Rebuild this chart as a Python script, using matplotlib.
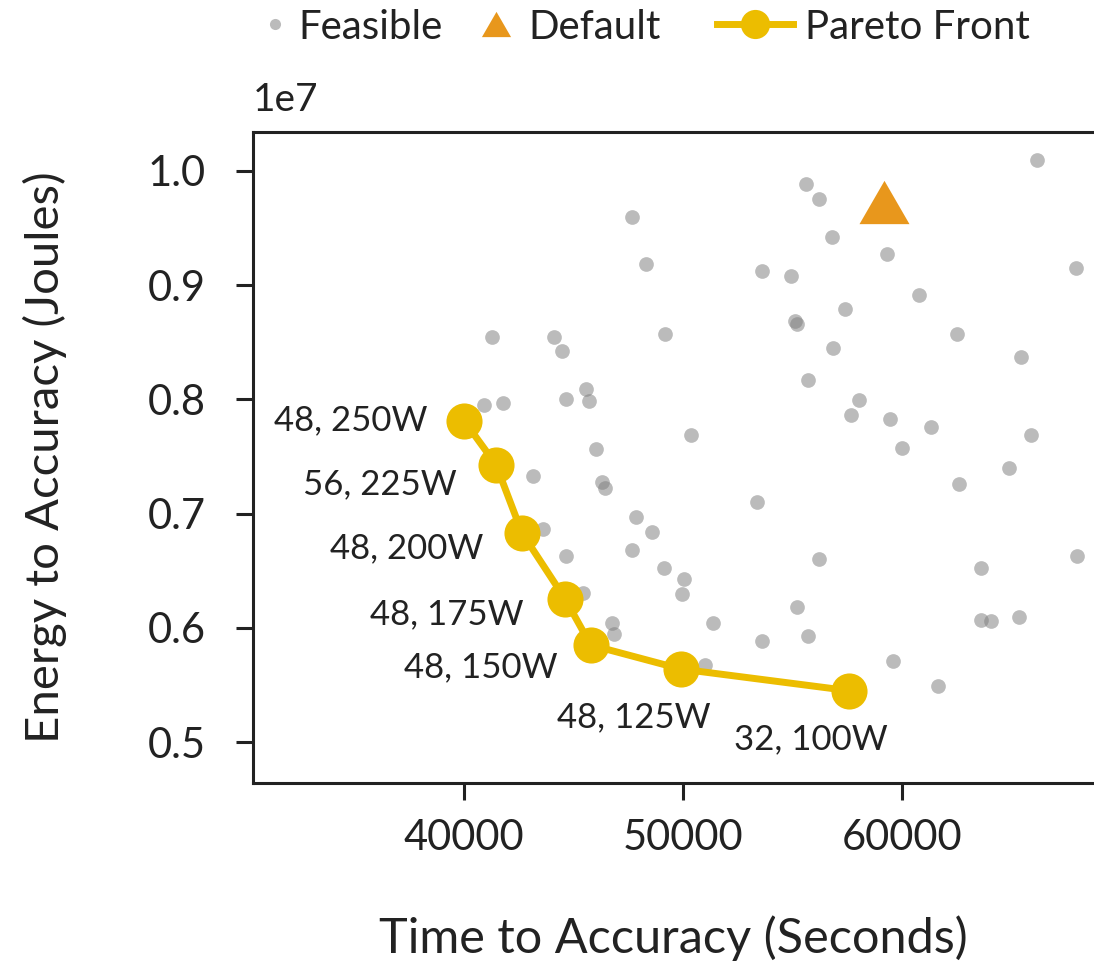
import matplotlib
matplotlib.use("Agg")
import matplotlib.pyplot as plt
from matplotlib.lines import Line2D
from matplotlib.path import Path
import numpy as np

# ---------------- data ----------------
feasible_time = [47678, 48317, 41291, 44119, 44471, 49147, 45579, 40926, 41779, 44640,
                 45716, 46035, 66140, 55588, 56182, 56802, 59311, 53581, 54918, 67906,
                 60771, 57381, 55087, 55191, 62477, 56834, 65424, 55707, 58020, 57655,
                 59434, 61318, 50342, 65853, 59968, 43148, 46309, 46446, 43590, 47860,
                 48563, 44667, 47664, 49101, 45442, 46765, 46843, 64863, 62596, 53353,
                 56209, 67979, 50050, 49931, 63572, 55191, 51359, 53608, 55680, 63572,
                 64055, 65333, 59571, 50981, 61637]
feasible_energy = [0.9593, 0.9182, 0.8546, 0.8543, 0.8426, 0.8575, 0.8088, 0.7954, 0.7966, 0.8006,
                   0.7983, 0.7563, 1.0097, 0.9882, 0.9753, 0.9418, 0.9270, 0.9121, 0.9077, 0.9147,
                   0.8911, 0.8794, 0.8689, 0.8657, 0.8570, 0.8450, 0.8368, 0.8167, 0.7992, 0.7861,
                   0.7831, 0.7756, 0.7689, 0.7691, 0.7575, 0.7332, 0.7280, 0.7228, 0.6866, 0.6971,
                   0.6840, 0.6633, 0.6685, 0.6525, 0.6306, 0.6046, 0.5945, 0.7400, 0.7260, 0.7102,
                   0.6601, 0.6627, 0.6426, 0.6295, 0.6528, 0.6184, 0.6041, 0.5886, 0.5927, 0.6067,
                   0.6059, 0.6094, 0.5709, 0.5679, 0.5493]
feasible_energy = [v * 1e7 for v in feasible_energy]

default_time = [59160]
default_energy = [0.9723e7]

pareto_time = [40000, 41460, 42646, 44608, 45780, 49886, 57577]
pareto_energy = [0.7814e7, 0.7429e7, 0.6831e7, 0.6256e7, 0.5851e7, 0.5641e7, 0.5451e7]
pareto_labels = ["48, 250W", "56, 225W", "48, 200W", "48, 175W", "48, 150W", "48, 125W", "32, 100W"]

xticks = [40000, 50000, 60000]
yticks = [0.5e7, 0.6e7, 0.7e7, 0.8e7, 0.9e7, 1.0e7]

# ---------------- style ----------------
FONT = ["Lato", "DejaVu Sans"]
plt.rcParams["font.family"] = FONT
TXT = "#222222"
GRAY = "#808080"
ORANGE = "#E8971C"
YELLOW = "#ECBD00"

fig = plt.figure(figsize=(10.94, 9.65), dpi=100)
ax = fig.add_axes([0.231, 0.1883, 0.769, 0.6752])

ax.scatter(feasible_time, feasible_energy, s=112, color=GRAY, alpha=0.53,
           linewidths=0, zorder=2)
tri = Path([(0, 0.866), (-1, -0.866), (1, -0.866), (0, 0.866)])
ax.plot(default_time, default_energy, linestyle="none", marker=tri, markersize=36,
        color=ORANGE, markeredgewidth=0, zorder=3)
ax.plot(pareto_time, pareto_energy, color=YELLOW, linewidth=5, marker="o",
        markersize=26, markeredgewidth=0, zorder=4)

offsets = [(-26, 0, "right"), (-28, -14, "right"), (-28, -11, "right"),
           (-30, -11, "right"), (-24, -16, "right"), (-34, -35, "center"),
           (-28, -35, "center")]
for t, e, lab, (dx, dy, ha) in zip(pareto_time, pareto_energy, pareto_labels, offsets):
    ax.annotate(lab, (t, e), xytext=(dx, dy), textcoords="offset points",
                ha=ha, va="center", fontsize=25, color=TXT, zorder=5)

ax.set_xlim(30360, 68741)
ax.set_ylim(0.4641e7, 1.0342e7)
ax.set_xticks(xticks)
ax.set_yticks(yticks)
ax.ticklabel_format(axis="y", style="sci", scilimits=(0, 0), useMathText=False)
ax.yaxis.get_offset_text().set_visible(False)
ax.text(0.0, 1.048, "1e7", transform=ax.transAxes, ha="left", va="center",
        fontsize=28, color=TXT)

for side in ["left", "top", "bottom"]:
    ax.spines[side].set_linewidth(2.2)
    ax.spines[side].set_color(TXT)
ax.spines["right"].set_visible(False)
ax.tick_params(axis="both", length=12, width=2.2, color=TXT, labelsize=30,
               labelcolor=TXT)
ax.tick_params(axis="x", pad=14)
ax.tick_params(axis="y", pad=22)

ax.set_xlabel("Time to Accuracy (Seconds)", fontsize=35, color=TXT, labelpad=42)
ax.set_ylabel("Energy to Accuracy (Joules)", fontsize=34, color=TXT, labelpad=58)

# ---------------- legend ----------------
h_feas = Line2D([], [], linestyle="none", marker="o", markersize=8, color=GRAY, alpha=0.53,
                markeredgewidth=0)
h_def = Line2D([], [], linestyle="none", marker=tri, markersize=21, color=ORANGE,
               markeredgewidth=0)
h_par = Line2D([], [], color=YELLOW, linewidth=5, marker="o", markersize=21,
               markeredgewidth=0)
kw = dict(frameon=False, fontsize=29, loc="center left", handletextpad=0.3,
          borderaxespad=0, borderpad=0, labelcolor=TXT)
fig.legend([h_feas], ["Feasible"], bbox_to_anchor=(0.240, 0.972), handlelength=0.6, **kw)
fig.legend([h_def], ["Default"], bbox_to_anchor=(0.435, 0.972), handlelength=1.0, **kw)
fig.legend([h_par], ["Pareto Front"], bbox_to_anchor=(0.655, 0.972), handlelength=1.9, **kw)

fig.savefig("out.png", dpi=100)
